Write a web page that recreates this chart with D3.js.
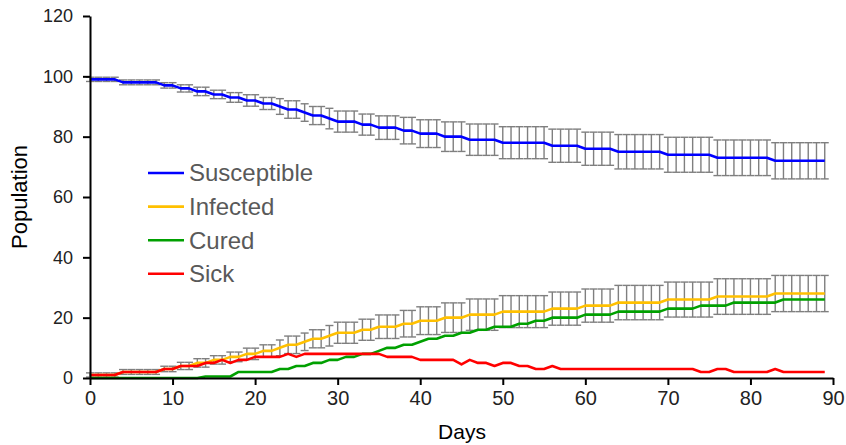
<!DOCTYPE html>
<html>
<head>
<meta charset="utf-8">
<script src="https://cdn.jsdelivr.net/npm/d3@7"></script>
<style>
  body { margin: 0; background: #fff; }
  svg { display: block; font-family: "Liberation Sans", Arial, sans-serif; }
  .axis path, .axis line { stroke: #000; stroke-width: 2; }
  .axis text { fill: #222; }
</style>
</head>
<body>
<svg id="chart" width="846" height="445"></svg>
<script>
// days 0..89
const days = d3.range(0, 90)

const susceptible = [
  99, 99, 99, 99, 98, 98, 98, 98, 98, 97, 97, 96, 96, 95, 95, 94, 94, 93, 93, 92,
  92, 91, 91, 90, 89, 89, 88, 87, 87, 86, 85, 85, 85, 84, 84, 83, 83, 83, 82, 82,
  81, 81, 81, 80, 80, 80, 79, 79, 79, 79, 78, 78, 78, 78, 78, 78, 77, 77, 77, 77,
  76, 76, 76, 76, 75, 75, 75, 75, 75, 75, 74, 74, 74, 74, 74, 74, 73, 73, 73, 73,
  73, 73, 73, 72, 72, 72, 72, 72, 72, 72
]

const infected = [
  1, 1, 1, 1, 2, 2, 2, 2, 2, 3, 3, 4, 4, 5, 5, 6, 6, 7, 7, 8,
  8, 9, 9, 10, 11, 11, 12, 13, 13, 14, 15, 15, 15, 16, 16, 17, 17, 17, 18, 18,
  19, 19, 19, 20, 20, 20, 21, 21, 21, 21, 22, 22, 22, 22, 22, 22, 23, 23, 23, 23,
  24, 24, 24, 24, 25, 25, 25, 25, 25, 25, 26, 26, 26, 26, 26, 26, 27, 27, 27, 27,
  27, 27, 27, 28, 28, 28, 28, 28, 28, 28
]

const cured = [
  0, 0, 0, 0, 0, 0, 0, 0, 0, 0, 0, 0, 0, 0, 0.5, 0.5, 0.5, 0.5, 2, 2,
  2, 2, 2, 3, 3, 4, 4, 5, 5, 6, 6, 7, 7, 8, 8, 9, 10, 10, 11, 11,
  12, 13, 13, 14, 14, 15, 15, 16, 16, 17, 17, 17, 18, 18, 19, 19, 20, 20, 20, 20,
  21, 21, 21, 21, 22, 22, 22, 22, 22, 22, 23, 23, 23, 23, 24, 24, 24, 24, 25, 25,
  25, 25, 25, 25, 26, 26, 26, 26, 26, 26
]

const sick = [
  1, 1, 1, 1, 2, 2, 2, 2, 2, 3, 3, 4, 4, 4, 5, 5, 6, 5, 6, 6,
  7, 7, 7, 7, 8, 7, 8, 8, 8, 8, 8, 8, 8, 8, 8, 8, 7, 7, 7, 7,
  6, 6, 6, 6, 6, 4.5, 6, 5, 5, 4, 5, 5, 4, 4, 3, 3, 4, 3, 3, 3,
  3, 3, 3, 3, 3, 3, 3, 3, 3, 3, 3, 3, 3, 3, 2, 2, 3, 3, 2, 2,
  2, 2, 2, 3, 2, 2, 2, 2, 2, 2
]

// +/- error, same spread read for susceptible and infected
const spread = [
  0.7, 0.7, 0.7, 0.7, 0.8, 0.8, 0.8, 0.8, 0.8, 0.9, 0.9, 1.2, 1.2, 1.4, 1.4, 1.4, 1.4, 1.6, 1.6, 1.9,
  1.9, 2.0, 2.0, 2.6, 2.9, 2.9, 2.9, 3.0, 3.0, 3.4, 3.5, 3.5, 3.5, 3.5, 3.5, 3.9, 3.9, 3.9, 4.4, 4.4,
  4.6, 4.6, 4.6, 4.9, 4.9, 4.9, 5.2, 5.2, 5.2, 5.2, 5.3, 5.3, 5.3, 5.3, 5.3, 5.3, 5.5, 5.5, 5.5, 5.5,
  5.5, 5.5, 5.5, 5.5, 5.7, 5.7, 5.7, 5.7, 5.7, 5.7, 5.8, 5.8, 5.8, 5.8, 5.8, 5.8, 5.9, 5.9, 5.9, 5.9,
  5.9, 5.9, 5.9, 6.0, 6.0, 6.0, 6.0, 6.0, 6.0, 6.0
]

const seriesNames = ["Susceptible", "Infected", "Cured", "Sick"]
const seriesColors = ["#0000ff", "#ffc000", "#00a000", "#ff0000"]
const xTicks = [0, 10, 20, 30, 40, 50, 60, 70, 80, 90]
const yTicks = [0, 20, 40, 60, 80, 100, 120]

const svg = d3.select("#chart")
const w = 846
const h = 445
const margin = { top: 16, right: 13, bottom: 67, left: 90 }

const x = d3.scaleLinear([0, 90], [margin.left, w - margin.right])
const y = d3.scaleLinear([0, 120], [h - margin.bottom, margin.top])

const series = [susceptible, infected, cured, sick]

// error bars first, lines go on top
const bars = svg.append("g").attr("stroke", "#7f7f7f").attr("stroke-width", 1.4)
;[susceptible, infected].forEach((vals) => {
  days.forEach((d, i) => {
    const top = y(vals[i] + spread[i])
    const bot = y(vals[i] - spread[i])
    bars.append("line").attr("x1", x(d)).attr("x2", x(d)).attr("y1", top).attr("y2", bot)
    bars.append("line").attr("x1", x(d) - 4).attr("x2", x(d) + 4).attr("y1", top).attr("y2", top)
    bars.append("line").attr("x1", x(d) - 4).attr("x2", x(d) + 4).attr("y1", bot).attr("y2", bot)
  })
})

const line = d3
  .line()
  .x((d, i) => x(days[i]))
  .y((d) => y(d))

svg
  .append("g")
  .selectAll("path")
  .data(series)
  .join("path")
  .attr("d", line)
  .attr("fill", "none")
  .attr("stroke", (d, i) => seriesColors[i])
  .attr("stroke-width", 2.6)
  .attr("stroke-linejoin", "round")

// axes
svg
  .append("g")
  .attr("class", "axis")
  .attr("transform", `translate(0,${h - margin.bottom})`)
  .call(d3.axisBottom(x).tickValues(xTicks).tickSize(7).tickSizeOuter(0).tickPadding(6))
  .selectAll("text")
  .style("font-size", "20px")

svg
  .append("g")
  .attr("class", "axis")
  .attr("transform", `translate(${margin.left},0)`)
  .call(d3.axisLeft(y).tickValues(yTicks).tickSize(7).tickSizeOuter(0).tickPadding(10))
  .selectAll("text")
  .style("font-size", "18px")

svg.selectAll(".axis .domain").attr("stroke-width", 2)

// axis titles
svg
  .append("text")
  .attr("x", 462)
  .attr("y", 439)
  .attr("text-anchor", "middle")
  .style("font-size", "21px")
  .attr("fill", "#000")
  .text("Days")

svg
  .append("text")
  .attr("transform", `translate(27,197) rotate(-90)`)
  .attr("text-anchor", "middle")
  .style("font-size", "22px")
  .attr("fill", "#000")
  .text("Population")

// legend
const legend = svg
  .append("g")
  .selectAll("g")
  .data(seriesNames)
  .join("g")
  .attr("transform", (d, i) => `translate(148,${173 + i * 33.6})`)

legend
  .append("line")
  .attr("x1", 0)
  .attr("x2", 36)
  .attr("stroke", (d, i) => seriesColors[i])
  .attr("stroke-width", 2.6)

legend
  .append("text")
  .attr("x", 41)
  .attr("dy", "0.35em")
  .style("font-size", "24px")
  .attr("fill", "#595959")
  .text((d) => d)
</script>
</body>
</html>
